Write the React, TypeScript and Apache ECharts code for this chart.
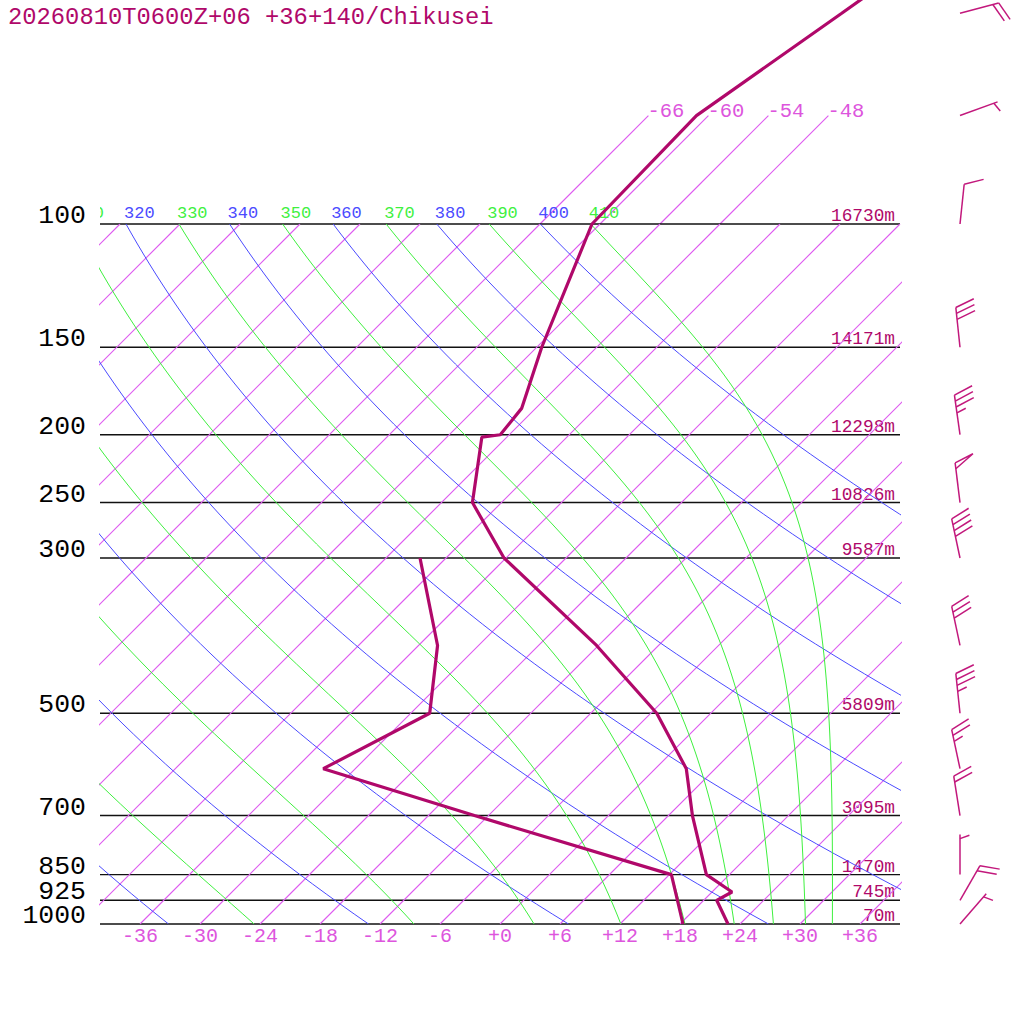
import React, { useEffect, useRef } from "react";
import * as echarts from "echarts";

const TITLE = "20260810T0600Z+06 +36+140/Chikusei";

// pressure levels with horizontal lines
const PRESSURE_LEVELS = [100, 150, 200, 250, 300, 500, 700, 850, 925, 1000];
const PRESSURE_LABELS = ["100", "150", "200", "250", "300", "500", "700", "850", "925", "1000"];
const HEIGHT_LABELS = ["16730m", "14171m", "12298m", "10826m", "9587m", "5809m", "3095m", "1470m", "745m", "70m"];

// temperature ticks on the bottom
const TEMP_TICKS = [-36, -30, -24, -18, -12, -6, 0, 6, 12, 18, 24, 30, 36];
const TEMP_TICK_LABELS = ["-36", "-30", "-24", "-18", "-12", "-6", "+0", "+6", "+12", "+18", "+24", "+30", "+36"];

// background families
const ISOTHERMS = [-108, -102, -96, -90, -84, -78, -72, -66, -60, -54, -48, -42, -36, -30, -24, -18, -12, -6, 0, 6, 12, 18, 24, 30, 36];
const ISOTHERM_TOP = [-66, -60, -54, -48];
const ISOTHERM_TOP_LABELS = ["-66", "-60", "-54", "-48"];
const ISOTHERM_TOP_P = 70;
const DRY_THETAS = [240, 260, 280, 300, 320, 340, 360, 380, 400];
const MOIST_THETAES = [250, 270, 290, 310, 330, 350, 370, 390, 410];

// temperature profile
const T_PRES = [1000, 925, 900, 850, 700, 600, 500, 400, 300, 250, 201.6, 200, 183.4, 150, 100, 70, 50, 30];
const T_VALUES = [22.8, 19.3, 20.0, 15.7, 8.4, 3.1, -5.4, -18.2, -36.2, -44.9, -50.5, -48.9, -49.4, -53.5, -60.8, -61.2, -56.9, -50.6];

// dew point profile
const TD_PRES = [1000, 850, 700, 600, 500, 400, 300];
const TD_VALUES = [18.3, 12.2, -13.4, -33.2, -28.1, -34.1, -44.6];

// winds
const WIND_PRES = [50, 70, 100, 150, 200, 250, 300, 400, 500, 600, 700, 850, 925, 1000];
const WIND_DIR = [75, 70, 6, 354, 352, 353, 348, 348, 354, 348, 351, 0, 30, 41];
const WIND_SPD = [20, 5, 10, 30, 35, 50, 40, 30, 35, 25, 20, 5, 20, 5];

const SKEW = 70; // degrees of skew per decade of pressure
const BARB_X = 46;
const FONT = "'Liberation Mono', 'DejaVu Sans Mono', monospace";

const C_ISO = "rgb(222, 92, 240)";
const C_ISO_TXT = "rgb(221, 85, 221)";
const C_BLUE = "rgb(75, 75, 255)";
const C_GREEN = "rgb(63, 240, 63)";
const C_PROF = "rgb(176, 8, 106)";
const C_BARB = "rgb(194, 24, 124)";
const C_PLINE = "rgb(17, 17, 17)";
const ISO_WIDTH = 1.15;

const yOf = (p: number) => Math.log10(1000 / p);
const skewX = (t: number, p: number) => t + SKEW * yOf(p);

function satR(Tk: number, p: number) {
  const tc = Tk - 273.15;
  const es = 6.112 * Math.exp((17.67 * tc) / (tc + 243.5));
  if (es > p * 0.6) return Infinity;
  return (622 * es) / (p - es);
}
function thetaE(Tk: number, p: number) {
  const r = satR(Tk, p);
  if (!isFinite(r)) return 1e9;
  const th = Tk * Math.pow(1000 / p, 0.2854 * (1 - 0.00028 * r));
  return th * Math.exp((3.376 / Tk - 0.00254) * r * (1 + 0.00081 * r));
}
function moistT(te: number, p: number) {
  let lo = 150, hi = 345;
  for (let i = 0; i < 60; i++) {
    const mid = (lo + hi) / 2;
    if (thetaE(mid, p) > te) hi = mid; else lo = mid;
  }
  return (lo + hi) / 2 - 273.15;
}
function dryT(th: number, p: number) {
  return th * Math.pow(p / 1000, 0.2857) - 273.15;
}

const STEPS = 70;
function curve(fn: (p: number) => number) {
  const pts: number[][] = [];
  for (let i = 0; i <= STEPS; i++) {
    const Y = i / STEPS;
    const p = 1000 / Math.pow(10, Y);
    pts.push([fn(p) + SKEW * Y, Y]);
  }
  return pts;
}

function lineSeries(data: number[][], color: string, width: number, clip = true) {
  return {
    type: "line",
    data,
    color,
    showSymbol: false,
    symbol: "none",
    clip,
    silent: true,
    smooth: false,
    animation: false,
    emphasis: { disabled: true },
    itemStyle: { color },
    lineStyle: { color, width, opacity: 1 },
  };
}

// straight segments [x1, y1, x2, y2] in data units
function segSeries(segs: number[][], color: string, width: number, clip: boolean) {
  return {
    type: "custom",
    clip,
    silent: true,
    data: segs,
    renderItem: (params: any, api: any) => {
      const a = api.coord([api.value(0), api.value(1)]);
      const b = api.coord([api.value(2), api.value(3)]);
      return {
        type: "polyline",
        shape: { points: [[a[0], a[1]], [b[0], b[1]]] },
        style: { stroke: color, lineWidth: width, fill: "none", opacity: 1 },
      };
    },
  };
}

function textSeries(
  points: number[][],
  texts: string[],
  o: { dx: number; dy: number; color: string; size: number; align: string; grid?: number; clip?: boolean }
) {
  return {
    type: "custom",
    xAxisIndex: o.grid || 0,
    yAxisIndex: o.grid || 0,
    clip: !!o.clip,
    silent: true,
    data: points,
    renderItem: (params: any, api: any) => {
      const c = api.coord([api.value(0), api.value(1)]);
      return {
        type: "text",
        x: c[0] + o.dx,
        y: c[1] + o.dy,
        style: {
          text: texts[params.dataIndex],
          fill: o.color,
          fontSize: o.size,
          fontFamily: FONT,
          lineHeight: Math.round(o.size * 0.8),
          align: o.align,
          textAlign: o.align,
          verticalAlign: "middle",
          textVerticalAlign: "middle",
        },
      };
    },
  };
}

function barbSeries() {
  return {
    type: "custom",
    clip: false,
    silent: true,
    data: WIND_PRES.map((p) => [BARB_X, yOf(p)]),
    renderItem: (params: any, api: any) => {
      const i = params.dataIndex;
      const c = api.coord([api.value(0), api.value(1)]);
      const d = (WIND_DIR[i] * Math.PI) / 180;
      const ux = Math.sin(d), uy = -Math.cos(d);
      const L = 40;
      const tx = c[0] + L * ux, ty = c[1] + L * uy;
      const a = (70 * Math.PI) / 180;
      const fx = ux * Math.cos(a) - uy * Math.sin(a);
      const fy = ux * Math.sin(a) + uy * Math.cos(a);
      const st = { stroke: C_BARB, lineWidth: 1.5, fill: null };
      const children: any[] = [
        { type: "line", shape: { x1: c[0], y1: c[1], x2: tx, y2: ty }, style: st },
      ];
      let s = Math.round(WIND_SPD[i] / 5) * 5;
      const pen = Math.floor(s / 50);
      s -= pen * 50;
      const full = Math.floor(s / 10);
      const half = s % 10 >= 5;
      let pos = 0;
      for (let k = 0; k < pen; k++) {
        const p0 = [tx - pos * ux, ty - pos * uy];
        const p1 = [p0[0] + 20 * fx, p0[1] + 20 * fy];
        const p2 = [tx - (pos + 6) * ux, ty - (pos + 6) * uy];
        children.push({ type: "polyline", shape: { points: [p0, p1, p2] }, style: st });
        pos += 8;
      }
      for (let k = 0; k < full; k++) {
        const p0 = [tx - pos * ux, ty - pos * uy];
        children.push({ type: "line", shape: { x1: p0[0], y1: p0[1], x2: p0[0] + 20 * fx, y2: p0[1] + 20 * fy }, style: st });
        pos += 6;
      }
      if (half) {
        if (pos === 0) pos = 4;
        const p0 = [tx - pos * ux, ty - pos * uy];
        children.push({ type: "line", shape: { x1: p0[0], y1: p0[1], x2: p0[0] + 10 * fx, y2: p0[1] + 10 * fy }, style: st });
      }
      return { type: "group", children };
    },
  };
}

export default function App() {
  const ref = useRef<HTMLDivElement>(null);
  useEffect(() => {
    if (!ref.current) return;
    const chart = echarts.init(ref.current, undefined, { renderer: "svg" });
    const series: any[] = [];

    // isotherms drawn as skewed line series (one per isotherm)
    ISOTHERMS.forEach((t) => series.push(lineSeries([[t, 0], [t + SKEW / 2, 0.5], [t + SKEW, 1]], C_ISO, ISO_WIDTH)));
    series.push(
      segSeries(
        ISOTHERM_TOP.map((t) => [t + SKEW, 1, skewX(t, ISOTHERM_TOP_P), yOf(ISOTHERM_TOP_P)]),
        C_ISO, ISO_WIDTH, false
      )
    );
    DRY_THETAS.forEach((th) => series.push(lineSeries(curve((p) => dryT(th, p)), C_BLUE, 1)));
    MOIST_THETAES.forEach((te) => series.push(lineSeries(curve((p) => moistT(te, p)), C_GREEN, 1)));
    series.push(segSeries(PRESSURE_LEVELS.map((p) => [-40, yOf(p), 40, yOf(p)]), C_PLINE, 1.4, false));
    series.push(lineSeries(TD_PRES.map((p, i) => [skewX(TD_VALUES[i], p), yOf(p)]), C_PROF, 3.2, false));
    series.push(lineSeries(T_PRES.map((p, i) => [skewX(T_VALUES[i], p), yOf(p)]), C_PROF, 3.2, false));

    series.push(
      textSeries(PRESSURE_LEVELS.map((p) => [-40, yOf(p)]), PRESSURE_LABELS, { dx: -14, dy: -8, color: "rgb(0,0,0)", size: 26.5, align: "right" })
    );
    series.push(
      textSeries(PRESSURE_LEVELS.map((p) => [40, yOf(p)]), HEIGHT_LABELS, { dx: -5, dy: -8, color: C_PROF, size: 17.8, align: "right" })
    );
    series.push(
      textSeries(TEMP_TICKS.map((t) => [t, 0]), TEMP_TICK_LABELS, { dx: 0, dy: 12, color: C_ISO_TXT, size: 20, align: "center" })
    );
    series.push(
      textSeries(ISOTHERM_TOP.map((t) => [skewX(t, ISOTHERM_TOP_P), yOf(ISOTHERM_TOP_P)]), ISOTHERM_TOP_LABELS, {
        dx: -1, dy: -4.5, color: C_ISO_TXT, size: 20.5, align: "left",
      })
    );
    // theta labels at the 100 hPa line (clipped to the plot's width)
    const thetaPts: number[][] = [];
    const thetaTxt: string[] = [];
    const thetaCol: string[] = [];
    const addTheta = (x: number, th: number, col: string) => {
      if (x < -43) return; // wholly left of the plot: not visible
      thetaPts.push([x, 0]);
      thetaTxt.push(String(th));
      thetaCol.push(col);
    };
    DRY_THETAS.forEach((th) => addTheta(dryT(th, 100) + SKEW, th, C_BLUE));
    MOIST_THETAES.forEach((te) => addTheta(moistT(te, 100) + SKEW, te, C_GREEN));
    series.push({
      type: "custom",
      xAxisIndex: 1,
      yAxisIndex: 1,
      clip: true,
      silent: true,
      data: thetaPts,
      renderItem: (params: any, api: any) => {
        const c = api.coord([api.value(0), api.value(1)]);
        return {
          type: "text",
          x: c[0] - 2,
          y: c[1] - 11,
          style: {
            text: thetaTxt[params.dataIndex],
            fill: thetaCol[params.dataIndex],
            fontSize: 17,
            fontFamily: FONT,
            align: "left",
            textAlign: "left",
            verticalAlign: "middle",
            textVerticalAlign: "middle",
          },
        };
      },
    });
    series.push(barbSeries());

    chart.setOption({
      animation: false,
      backgroundColor: "#ffffff",
      grid: [
        { left: 100, top: 224, width: 800, height: 700 },
        { left: 100, top: 196, width: 800, height: 28 },
      ],
      xAxis: [
        { type: "value", min: -40, max: 40, show: false, gridIndex: 0 },
        { type: "value", min: -40, max: 40, show: false, gridIndex: 1 },
      ],
      yAxis: [
        { type: "value", min: 0, max: 1, show: false, gridIndex: 0 },
        { type: "value", min: 0, max: 1, show: false, gridIndex: 1 },
      ],
      graphic: {
        elements: [
          {
            type: "text",
            x: 8,
            y: 17,
            style: {
              text: TITLE,
              fill: C_PROF,
              fontSize: 23.8,
              fontFamily: FONT,
              textVerticalAlign: "middle",
              verticalAlign: "middle",
            },
          },
        ],
      },
      series,
    });
    return () => chart.dispose();
  }, []);
  return <div ref={ref} style={{ position: "fixed", left: 0, top: 0, width: 1024, height: 1024 }} />;
}
